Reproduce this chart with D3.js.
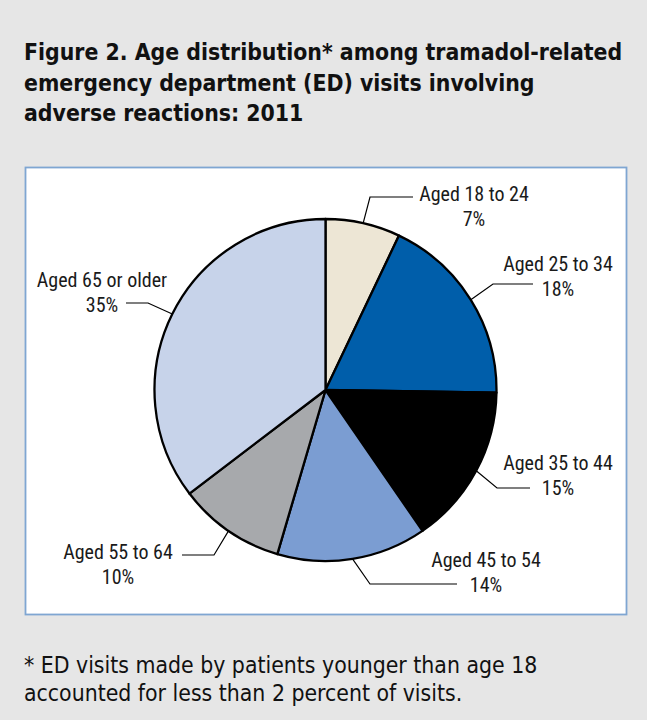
<!DOCTYPE html>
<html>
<head>
<meta charset="utf-8">
<script src="https://cdn.jsdelivr.net/npm/d3@7"></script>
<style>
  html, body { margin: 0; padding: 0; background: #e6e6e6; }
  svg { display: block; }
</style>
</head>
<body>
<svg id="chart" width="647" height="720"></svg>
<script>
// ---- data ----
const categories = ["Aged 18 to 24", "Aged 25 to 34", "Aged 35 to 44", "Aged 45 to 54", "Aged 55 to 64", "Aged 65 or older"];
const values = [7, 18, 15, 14, 10, 35];
const valueLabels = ["7%", "18%", "15%", "14%", "10%", "35%"];
const titleLines = [
  "Figure 2. Age distribution* among tramadol-related",
  "emergency department (ED) visits involving",
  "adverse reactions: 2011"
];
const footnoteLines = [
  "* ED visits made by patients younger than age 18",
  "accounted for less than 2 percent of visits."
];

// ---- styles / layout ----
const sliceColors = ["#ede6d5", "#005eaa", "#000000", "#7b9dd2", "#a7a9ac", "#c7d3ea"];
const labelLayout = [
  { elbow: [370, 197], end: [413, 197], cx: 474, y: 201 },
  { elbow: [493, 284], end: [533, 284], cx: 558, y: 271 },
  { elbow: [497, 488], end: [530, 488], cx: 558, y: 470 },
  { elbow: [370, 584], end: [457, 584], cx: 486, y: 567 },
  { elbow: [214, 555], end: [182, 555], cx: 118, y: 559 },
  { elbow: [148, 303], end: [126, 303], cx: 102, y: 287 }
];

const svg = d3.select("#chart");
const W = 647, H = 720;

svg.append("rect").attr("width", W).attr("height", H).attr("fill", "#e6e6e6");

// Title
const titleFont = "'DejaVu Sans Condensed', 'DejaVu Sans', sans-serif";
svg.append("g").selectAll("text").data(titleLines).join("text")
  .attr("x", 24).attr("y", (d, i) => 60 + i * 30.5)
  .attr("font-family", titleFont).attr("font-weight", "bold")
  .attr("font-stretch", "condensed")
  .attr("font-size", 22.8).attr("fill", "#111")
  .text(d => d);

// Chart box
svg.append("rect").attr("x", 25.5).attr("y", 167.5).attr("width", 601).attr("height", 447)
  .attr("fill", "#ffffff").attr("stroke", "#7fa6d2").attr("stroke-width", 1.8);

// Pie
const cx = 325.5, cy = 390, R = 171;
const pie = d3.pie().sort(null).value(d => d);
const arcs = pie(values);
const arc = d3.arc().innerRadius(0).outerRadius(R);
const g = svg.append("g").attr("transform", `translate(${cx},${cy})`);
g.selectAll("path").data(arcs).join("path")
  .attr("d", arc)
  .attr("fill", (d, i) => sliceColors[i])
  .attr("stroke", "#000").attr("stroke-width", 2.3).attr("stroke-linejoin", "round");

// Leader lines and labels
const labelFont = "'Liberation Sans Narrow', 'Arial Narrow', 'Roboto Condensed', sans-serif";
const lg = svg.append("g");
arcs.forEach((a, i) => {
  const mid = (a.startAngle + a.endAngle) / 2;
  const sx = cx + R * Math.sin(mid), sy = cy - R * Math.cos(mid);
  const L = labelLayout[i];
  lg.append("polyline")
    .attr("points", [[sx, sy], L.elbow, L.end].map(p => p.join(",")).join(" "))
    .attr("fill", "none").attr("stroke", "#000").attr("stroke-width", 1.2);
  const t = lg.append("text").attr("text-anchor", "middle")
    .attr("font-family", labelFont).attr("font-size", 20).attr("fill", "#1a1a1a");
  t.append("tspan").attr("x", L.cx).attr("y", L.y).text(categories[i]);
  t.append("tspan").attr("x", L.cx).attr("y", L.y + 24.5).text(valueLabels[i]);
});

// Footnote
svg.append("g").selectAll("text").data(footnoteLines).join("text")
  .attr("x", 24).attr("y", (d, i) => 673 + i * 27.5)
  .attr("font-family", titleFont).attr("font-stretch", "condensed")
  .attr("font-size", 22.8).attr("fill", "#111")
  .text(d => d);
</script>
</body>
</html>
